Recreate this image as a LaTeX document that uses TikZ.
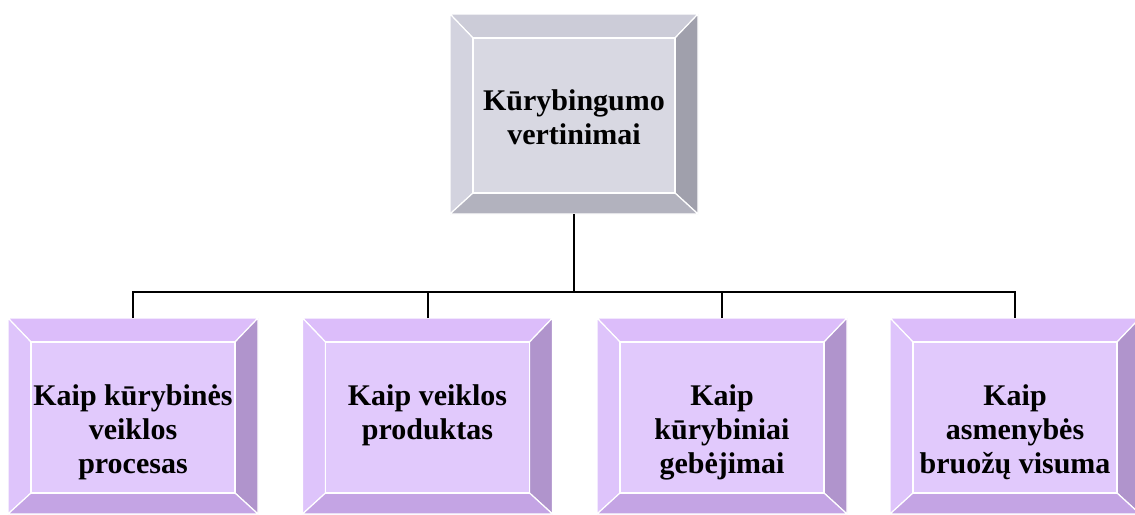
\documentclass[tikz,border=0pt]{standalone}
\usepackage{fontspec}
\setmainfont{Liberation Serif}
\usepackage{tikz}
\usepackage{xcolor}
\usetikzlibrary{calc}

\definecolor{grface}{RGB}{216,216,226}
\definecolor{grtop}{RGB}{204,204,216}
\definecolor{grleft}{RGB}{211,211,223}
\definecolor{grright}{RGB}{160,160,172}
\definecolor{grbottom}{RGB}{178,178,190}
\definecolor{puface}{RGB}{225,201,252}
\definecolor{putop}{RGB}{220,189,250}
\definecolor{puleft}{RGB}{222,196,251}
\definecolor{puright}{RGB}{176,148,204}
\definecolor{pubottom}{RGB}{196,164,228}

% bevelled frame round a named node, #2 is the colour prefix
\newcommand{\bevel}[2]{
	\coordinate (#1a) at ($(#1.north west)+(23,24)$);
	\coordinate (#1b) at ($(#1.north east)+(-23,24)$);
	\coordinate (#1c) at ($(#1.south east)+(-23,-21)$);
	\coordinate (#1d) at ($(#1.south west)+(23,-21)$);
	\filldraw[bev, fill=#2top] (#1.north west) -- (#1.north east) -- (#1b) -- (#1a) -- cycle;
	\filldraw[bev, fill=#2left] (#1.north west) -- (#1a) -- (#1d) -- (#1.south west) -- cycle;
	\filldraw[bev, fill=#2right] (#1.north east) -- (#1.south east) -- (#1c) -- (#1b) -- cycle;
	\filldraw[bev, fill=#2bottom] (#1.south west) -- (#1d) -- (#1c) -- (#1.south east) -- cycle;
	\filldraw[bev, fill=#2face] (#1a) -- (#1b) -- (#1c) -- (#1d) -- cycle;
}

\begin{document}
\begin{tikzpicture}[x=1pt,y=-1pt]
	\tikzstyle{frame} = [inner sep=0, outer sep=0, minimum width=250, minimum height=196]
	\tikzstyle{bev} = [draw=white, line width=1.2, line join=miter]
	\tikzstyle{txt} = [inner sep=0, anchor=base, font=\bfseries\fontsize{30}{34}\selectfont]
	\tikzstyle{conn} = [draw=black, line width=2]
	\useasboundingbox (0,0) rectangle (1135,514);

		\node[frame, minimum width=248, minimum height=200] (top) at (574,114) {};
		\node[frame] (b1) at (133,416) {};
		\node[frame] (b2) at (427.5,416) {};
		\node[frame] (b3) at (722,416) {};
		\node[frame] (b4) at (1015,416) {};

		\bevel{top}{gr}
		\bevel{b1}{pu}
		\bevel{b2}{pu}
		\bevel{b3}{pu}
		\bevel{b4}{pu}

		\node[txt] (ttop) at (574,110) {\begin{tabular}[t]{@{}c@{}}Kūrybingumo\\vertinimai\end{tabular}};
		\node[txt] (t1) at (133,405) {\begin{tabular}[t]{@{}c@{}}Kaip kūrybinės\\veiklos\\procesas\end{tabular}};
		\node[txt] (t2) at (427.5,405) {\begin{tabular}[t]{@{}c@{}}Kaip veiklos\\produktas\end{tabular}};
		\node[txt] (t3) at (722,405) {\begin{tabular}[t]{@{}c@{}}Kaip\\kūrybiniai\\gebėjimai\end{tabular}};
		\node[txt] (t4) at (1015,405) {\begin{tabular}[t]{@{}c@{}}Kaip\\asmenybės\\bruožų visuma\end{tabular}};

		\coordinate (hub) at (574,292);
		\draw[conn] (top.south) -- (hub);
		\draw[conn] (b1.north) -- (b1.north |- hub) -- (b4.north |- hub) -- (b4.north);
		\draw[conn] (b2.north) -- (b2.north |- hub);
		\draw[conn] (b3.north) -- (b3.north |- hub);
	\end{tikzpicture}
\end{document}
